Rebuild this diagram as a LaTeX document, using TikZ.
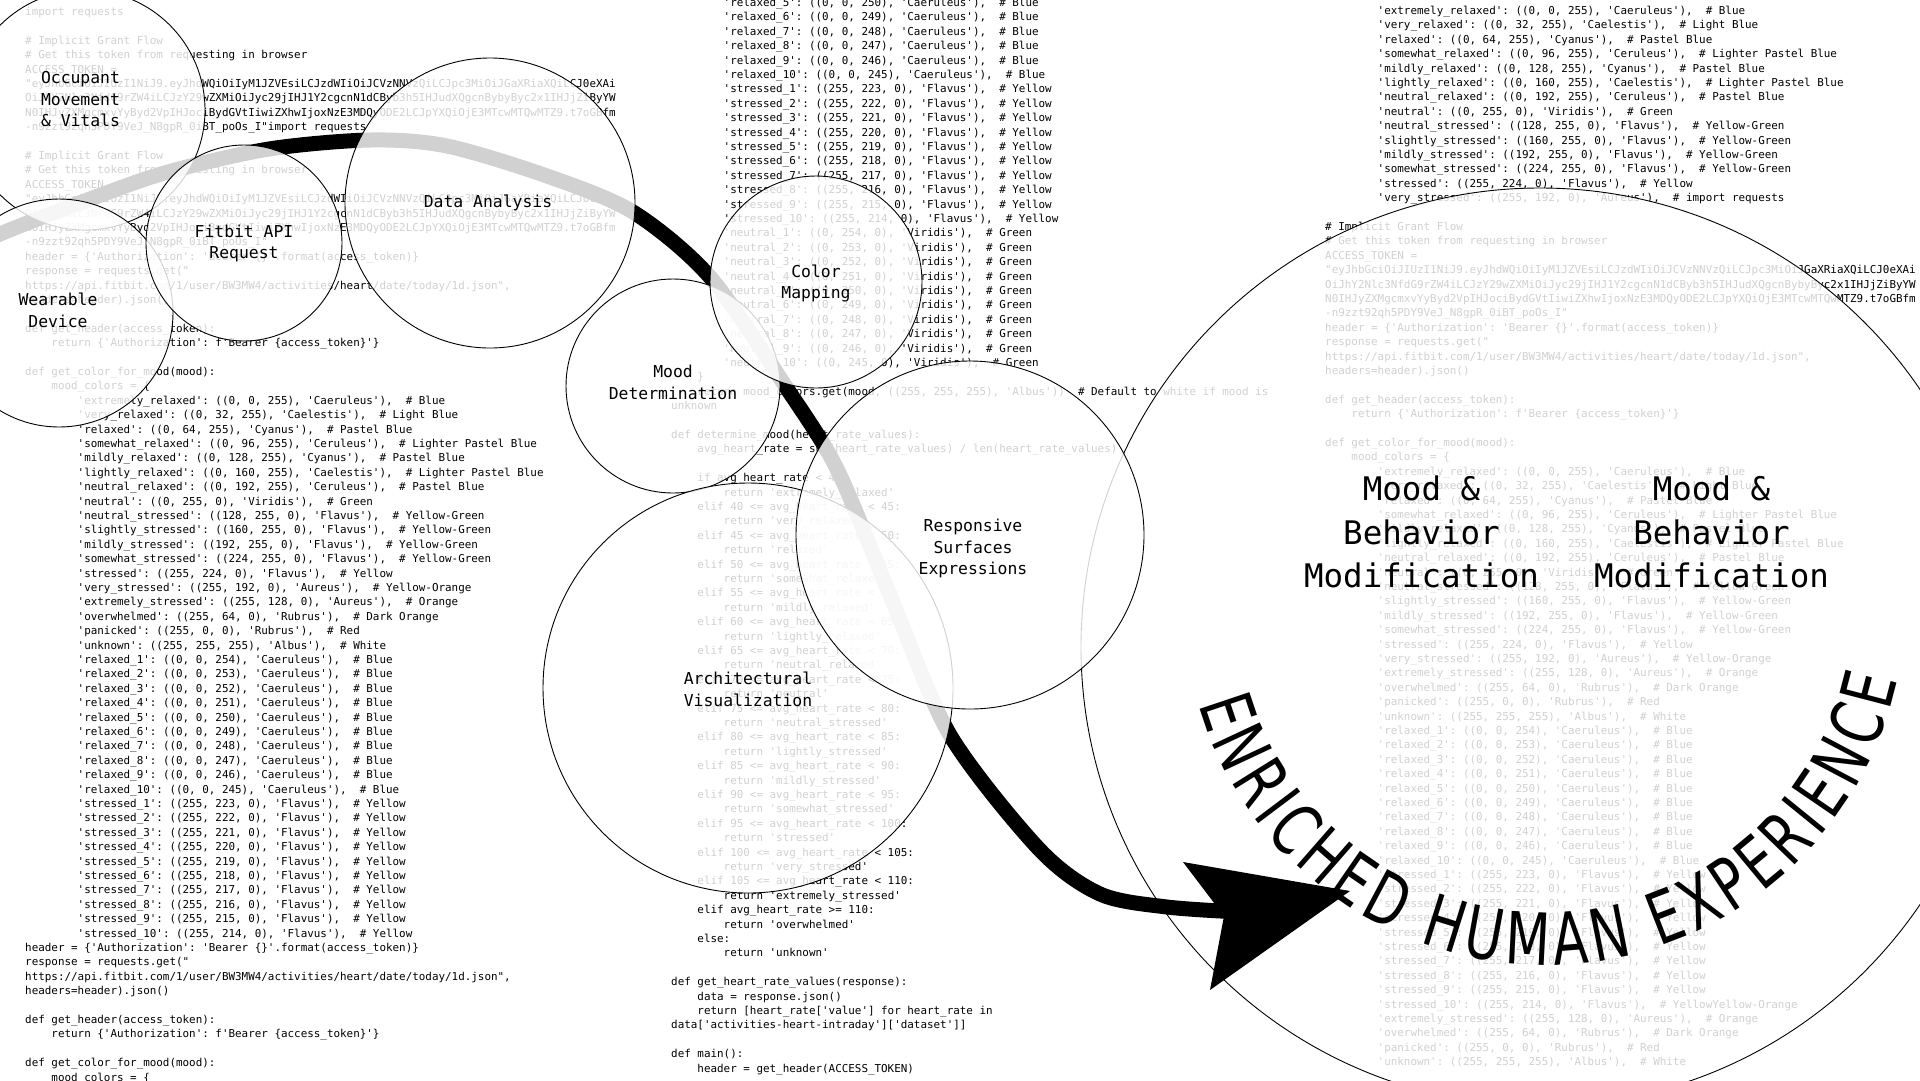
\documentclass[tikz,border=0pt]{standalone}
\usepackage{fontspec}
\setmonofont{DejaVu Sans Mono}
\newfontfamily\arcfont[FakeStretch=0.72]{DejaVu Sans}
\usetikzlibrary{decorations.text}

% pieces of the listing in the background
\newcommand\tokenhead{%
{\# Implicit Grant Flow},%
{\# Get this token from requesting in browser},%
{ACCESS\_TOKEN =},%
{"eyJhbGciOiJIUzI1NiJ9.eyJhdWQiOiIyM1JZVEsiLCJzdWIiOiJCVzNNVzQiLCJpc3MiOiJGaXRiaXQiLCJ0eXAi},%
{OiJhY2Nlc3NfdG9rZW4iLCJzY29wZXMiOiJyc29jIHJ1Y2cgcnN1dCByb3h5IHJudXQgcnBybyByc2x1IHJjZiByYW},%
{N0IHJyZXMgcmxvYyByd2VpIHJociBydGVtIiwiZXhwIjoxNzE3MDQyODE2LCJpYXQiOjE3MTcwMTQwMTZ9.t7oGBfm}}
\newcommand\reqlines{%
{header = \{'Authorization': 'Bearer \{\}'.format(access\_token)\}},%
{response = requests.get("},%
{https://api.fitbit.com/1/user/BW3MW4/activities/heart/date/today/1d.json",},%
{headers=header).json()},%
{},%
{def get\_header(access\_token):},%
{~~~~return \{'Authorization': f'Bearer \{access\_token\}'\}},%
{},%
{def get\_color\_for\_mood(mood):},%
{~~~~mood\_colors = \{}}
\newcommand\moodA{%
{~~~~~~~~'extremely\_relaxed': ((0, 0, 255), 'Caeruleus'),~ \# Blue},%
{~~~~~~~~'very\_relaxed': ((0, 32, 255), 'Caelestis'),~ \# Light Blue},%
{~~~~~~~~'relaxed': ((0, 64, 255), 'Cyanus'),~ \# Pastel Blue},%
{~~~~~~~~'somewhat\_relaxed': ((0, 96, 255), 'Ceruleus'),~ \# Lighter Pastel Blue},%
{~~~~~~~~'mildly\_relaxed': ((0, 128, 255), 'Cyanus'),~ \# Pastel Blue},%
{~~~~~~~~'lightly\_relaxed': ((0, 160, 255), 'Caelestis'),~ \# Lighter Pastel Blue},%
{~~~~~~~~'neutral\_relaxed': ((0, 192, 255), 'Ceruleus'),~ \# Pastel Blue},%
{~~~~~~~~'neutral': ((0, 255, 0), 'Viridis'),~ \# Green},%
{~~~~~~~~'neutral\_stressed': ((128, 255, 0), 'Flavus'),~ \# Yellow-Green},%
{~~~~~~~~'slightly\_stressed': ((160, 255, 0), 'Flavus'),~ \# Yellow-Green},%
{~~~~~~~~'mildly\_stressed': ((192, 255, 0), 'Flavus'),~ \# Yellow-Green},%
{~~~~~~~~'somewhat\_stressed': ((224, 255, 0), 'Flavus'),~ \# Yellow-Green},%
{~~~~~~~~'stressed': ((255, 224, 0), 'Flavus'),~ \# Yellow}}
\newcommand\moodB{%
{~~~~~~~~'very\_stressed': ((255, 192, 0), 'Aureus'),~ \# Yellow-Orange}}
\newcommand\moodC{%
{~~~~~~~~'extremely\_stressed': ((255, 128, 0), 'Aureus'),~ \# Orange},%
{~~~~~~~~'overwhelmed': ((255, 64, 0), 'Rubrus'),~ \# Dark Orange},%
{~~~~~~~~'panicked': ((255, 0, 0), 'Rubrus'),~ \# Red},%
{~~~~~~~~'unknown': ((255, 255, 255), 'Albus'),~ \# White}}
\newcommand\detheadlines{%
{~~~~\}},%
{~~~~return mood\_colors.get(mood, ((255, 255, 255), 'Albus'))~ \# Default to white if mood is},%
{unknown},%
{},%
{def determine\_mood(heart\_rate\_values):},%
{~~~~avg\_heart\_rate = sum(heart\_rate\_values) / len(heart\_rate\_values)},%
{},%
{~~~~if avg\_heart\_rate < 40:},%
{~~~~~~~~return 'extremely\_relaxed'}}
\newcommand\dettaillines{%
{~~~~elif avg\_heart\_rate >= 110:},%
{~~~~~~~~return 'overwhelmed'},%
{~~~~else:},%
{~~~~~~~~return 'unknown'},%
{},%
{def get\_heart\_rate\_values(response):},%
{~~~~data = response.json()},%
{~~~~return [heart\_rate['value'] for heart\_rate in},%
{data['activities-heart-intraday']['dataset']]},%
{},%
{def main():},%
{~~~~header = get\_header(ACCESS\_TOKEN)}}

% one node per listing line, 14.4pt apart
\newcommand\codelines[3]{%
  \foreach \codeln [count=\lno from #2] in #3
    {\node[code] (#1-\lno) at (0,{-14.4*\lno}) {\codeln};}}
\newcommand\relaxedlines[4]{%
  \foreach \idx in {#3,...,#4}{%
    \pgfmathtruncatemacro\val{255-\idx}%
    \pgfmathtruncatemacro\lno{#2+\idx-#3}%
    \node[code] (#1-\lno) at (0,{-14.4*\lno}) {~~~~~~~~'relaxed\_\idx': ((0, 0, \val), 'Caeruleus'),~ \# Blue};}}
\newcommand\stressedlines[4]{%
  \foreach \idx in {#3,...,#4}{%
    \pgfmathtruncatemacro\val{224-\idx}%
    \pgfmathtruncatemacro\lno{#2+\idx-#3}%
    \node[code] (#1-\lno) at (0,{-14.4*\lno}) {~~~~~~~~'stressed\_\idx': ((255, \val, 0), 'Flavus'),~ \# Yellow};}}
\newcommand\neutrallines[4]{%
  \foreach \idx in {#3,...,#4}{%
    \pgfmathtruncatemacro\val{255-\idx}%
    \pgfmathtruncatemacro\lno{#2+\idx-#3}%
    \node[code] (#1-\lno) at (0,{-14.4*\lno}) {~~~~~~~~'neutral\_\idx': ((0, \val, 0), 'Viridis'),~ \# Green};}}

\begin{document}
\begin{tikzpicture}[x=1pt, y=1pt,
    code/.style={anchor=base west, inner sep=0pt, font=\ttfamily\fontsize{10.9}{14.4}\selectfont},
    bubble/.style={circle, draw=black, line width=0.9pt, fill=white, fill opacity=0.82, inner sep=0pt, minimum size=#1},
    lbl/.style={align=center, inner sep=0pt, font=\ttfamily\fontsize{16.4}{21.5}\selectfont},
    biglbl/.style={align=center, inner sep=0pt, font=\ttfamily\fontsize{32.5}{43.5}\selectfont},
    flow/.style={line width=15pt, black}
]
\useasboundingbox (0,0) rectangle (1920,-1080);
\clip (0,0) rectangle (1920,-1080);
\fill[white] (0,0) rectangle (1920,-1080);

% Listing, left column
\begin{scope}[shift={(25,-15.5)}]
\node[code] (A-0) at (0,0) {import requests};
\codelines{A}{2}{\tokenhead}
\node[code] (A-8) at (0,{-14.4*8}) {-n9zzt92qh5PDY9VeJ\_N8gpR\_0iBT\_poOs\_I"import requests};
\codelines{A}{10}{\tokenhead}
\node[code] (A-16) at (0,{-14.4*16}) {-n9zzt92qh5PDY9VeJ\_N8gpR\_0iBT\_poOs\_I"};
\codelines{A}{17}{\reqlines}
\codelines{A}{27}{\moodA}
\codelines{A}{40}{\moodB}
\codelines{A}{41}{\moodC}
\relaxedlines{A}{45}{1}{10}
\stressedlines{A}{55}{1}{10}
\codelines{A}{65}{\reqlines}
\end{scope}

% Listing, middle column
\begin{scope}[shift={(671,-6.5)}]
\relaxedlines{B}{0}{5}{10}
\stressedlines{B}{6}{1}{10}
\neutrallines{B}{16}{1}{10}
\codelines{B}{26}{\detheadlines}
\foreach \nm [count=\pos from 0] in {very\_relaxed,relaxed,somewhat\_relaxed,mildly\_relaxed,lightly\_relaxed,neutral\_relaxed,neutral,neutral\_stressed,lightly\_stressed,mildly\_stressed,somewhat\_stressed,stressed,very\_stressed,extremely\_stressed}{
  \pgfmathtruncatemacro\lob{40+5*\pos}
  \pgfmathtruncatemacro\hib{45+5*\pos}
  \pgfmathtruncatemacro\lno{35+2*\pos}
  \pgfmathtruncatemacro\lnr{36+2*\pos}
  \node[code] (B-\lno) at (0,{-14.4*\lno}) {~~~~elif \lob{} <= avg\_heart\_rate < \hib:};
  \node[code] (B-\lnr) at (0,{-14.4*\lnr}) {~~~~~~~~return '\nm'};
}
\codelines{B}{63}{\dettaillines}
\end{scope}

% Listing, right column
\begin{scope}[shift={(1325,-14.5)}]
\codelines{C}{0}{\moodA}
\node[code] (C-13) at (0,{-14.4*13}) {~~~~~~~~'very\_stressed': ((255, 192, 0), 'Aureus'),~ \# import requests};
\codelines{C}{15}{\tokenhead}
\node[code] (C-21) at (0,{-14.4*21}) {-n9zzt92qh5PDY9VeJ\_N8gpR\_0iBT\_poOs\_I"};
\codelines{C}{22}{\reqlines}
\codelines{C}{32}{\moodA}
\codelines{C}{45}{\moodB}
\codelines{C}{46}{\moodC}
\relaxedlines{C}{50}{1}{10}
\stressedlines{C}{60}{1}{9}
\node[code] (C-69) at (0,{-14.4*69}) {~~~~~~~~'stressed\_10': ((255, 214, 0), 'Flavus'),~ \# YellowYellow-Orange};
\codelines{C}{70}{\moodC}
\end{scope}

% Enriched human experience
\node[bubble=918pt] (experience) at (1540,-647) {};

% Flow arrow
\coordinate (flowstart) at (-30,-250);
\coordinate (notch) at (1240,-912);
\draw[flow] plot[smooth, tension=0.5] coordinates {(flowstart) (0,-234) (90,-199) (168,-172) (269,-149) (370,-140) (447,-146) (547,-176) (633,-212) (710,-277) (786,-387) (837,-469) (892,-600) (950,-735) (1039,-849) (1100,-894) (1167,-907) (notch)};
\coordinate (tip) at (1350,-891);
\coordinate (barbup) at (1183,-862);
\coordinate (barblow) at (1210,-990);
\coordinate (inset) at (1224,-916);
\fill (tip) -- (barbup) -- (inset) -- (barblow) -- cycle;

% Stages
\node[bubble=240pt] (occupant) at (85,-110) {};
\node[bubble=228pt] (wearable) at (59,-313) {};
\node[bubble=196pt] (fitbit) at (244,-243) {};
\node[bubble=290pt] (analysis) at (490,-203) {};
\node[bubble=214pt] (mood) at (673,-386) {};
\node[bubble=212pt] (colormap) at (816,-282) {};
\node[bubble=410pt] (archvis) at (748,-688) {};
\node[bubble=348pt] (surfaces) at (970,-535) {};

% Labels
\node[lbl] (occupantlbl) at (80.5,-99.5) {Occupant\\Movement\\\& Vitals};
\node[lbl] (wearablelbl) at (58,-310.5) {Wearable\\Device};
\node[lbl] (fitbitlbl) at (244,-243.5) {Fitbit API\\Request};
\node[lbl] (analysislbl) at (488,-203) {Data Analysis};
\node[lbl] (moodlbl) at (673,-382.5) {Mood\\Determination};
\node[lbl] (colormaplbl) at (816,-283.5) {Color\\Mapping};
\node[lbl] (archvislbl) at (748,-689.5) {Architectural\\Visualization};
\node[lbl] (surfaceslbl) at (973,-548.5) {Responsive\\Surfaces\\Expressions};
\node[biglbl] (modlblA) at (1421.5,-532) {Mood \&\\Behavior\\Modification};
\node[biglbl] (modlblB) at (1711.5,-532) {Mood \&\\Behavior\\Modification};

% Curved title
\coordinate (arcmid) at (1545,-605);
\path[decorate, decoration={text along path, text align={fit to path},
    text={|\arcfont\fontsize{72}{80}\selectfont|ENRICHED HUMAN EXPERIENCE}}]
  ([shift={(196:360)}]arcmid) arc[start angle=196, end angle=348, radius=360];
\end{tikzpicture}
\end{document}
